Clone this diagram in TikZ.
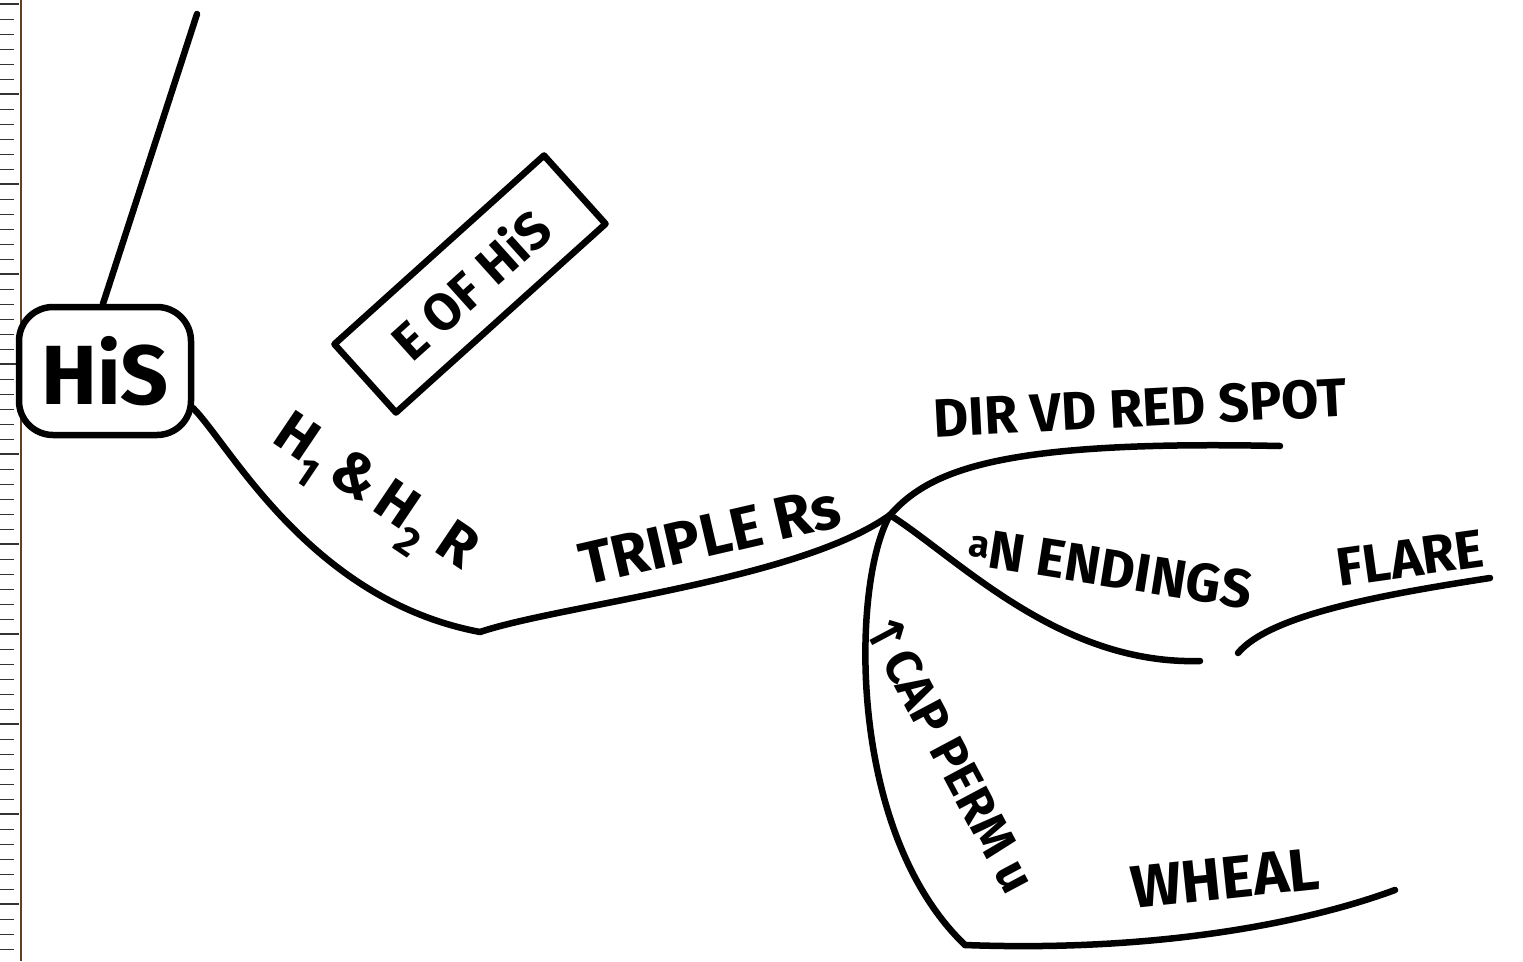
\documentclass[tikz,border=0pt]{standalone}
\usepackage{fontspec}
\setmainfont{Fira Sans}
\newfontfamily\symfont{DejaVu Sans}
\tikzset{
  pen/.style={line width=6.5pt, line cap=round, line join=round},
  lbl/.style={inner sep=0pt, font=\bfseries\fontsize{54}{58}\selectfont},
  boxnode/.style={draw, pen, align=center},
}
\begin{document}
\begin{tikzpicture}[x=1pt,y=-1pt]
\useasboundingbox[fill=white] (0,0) rectangle (1523,961);
% ruler strip at the left edge
\draw[line width=1.6pt, brown!50!black] (21,0) -- (21,961);
\foreach \y in {4,19,...,961} \draw[line width=1pt, black!80] (0,\y) -- (14,\y);
\foreach \y in {4,94,...,961} \draw[line width=1.5pt, black!80] (0,\y) -- (19,\y);

% central node
\node[boxnode, rounded corners=34pt, minimum width=172pt, minimum height=128pt, fill=white,
      font=\bfseries\fontsize{84}{88}\selectfont] (his) at (105,371) {HiS};
\coordinate (top) at (197,14);
\coordinate (hisout) at (193,408);
\coordinate (j1) at (480,632);
\coordinate (j2) at (890,515);
\coordinate (redend) at (1280,446);
\coordinate (ne) at (1200,661);
\coordinate (fs) at (1238,653);
\coordinate (flend) at (1490,578);
\coordinate (wk) at (965,945);
\coordinate (whend) at (1395,890);

\draw[pen] ([xshift=-2pt]his.north) -- (top);
\draw[pen] (hisout) .. controls (230,445) and (310,600) .. (j1);
\draw[pen] (j1) .. controls (560,605) and (800,580) .. (j2);
\draw[pen] (j2) .. controls (930,470) and (1000,440) .. (redend);
\draw[pen] (j2) .. controls (960,560) and (1060,665) .. (ne);
\draw[pen] (fs) .. controls (1270,615) and (1380,595) .. (flend);
\draw[pen] (j2) .. controls (852,580) and (845,830) .. (wk);
\draw[pen] (wk) .. controls (1150,952) and (1300,925) .. (whend);

% box E OF HIS
\node[boxnode, rotate=42, minimum width=282pt, minimum height=92pt,
      font=\bfseries\fontsize{52}{56}\selectfont] (eofhis) at (470,284) {E OF HiS};

% labels
\node[lbl, rotate=-34, font=\bfseries\fontsize{58}{62}\selectfont] (h12) at (372,497) {H\textsubscript{1}\,\&\,H\textsubscript{2} R};
\node[lbl, rotate=13, font=\bfseries\fontsize{60}{64}\selectfont] (triple) at (710,536) {TRIPLE Rs};
\node[lbl, rotate=3] (redspot) at (1140,408) {DIR VD RED SPOT};
\node[lbl, rotate=-9] (nend) at (1110,568) {\textsuperscript{a}N ENDINGS};
\node[lbl, rotate=8] (flare) at (1410,558) {FLARE};
\node[lbl, rotate=-62, font=\bfseries\fontsize{50}{54}\selectfont] (cap) at (950,752) {{\symfont ↑}CAP PERM u};
\node[lbl, rotate=6, font=\bfseries\fontsize{60}{64}\selectfont] (wheal) at (1225,878) {WHEAL};
\end{tikzpicture}
\end{document}
